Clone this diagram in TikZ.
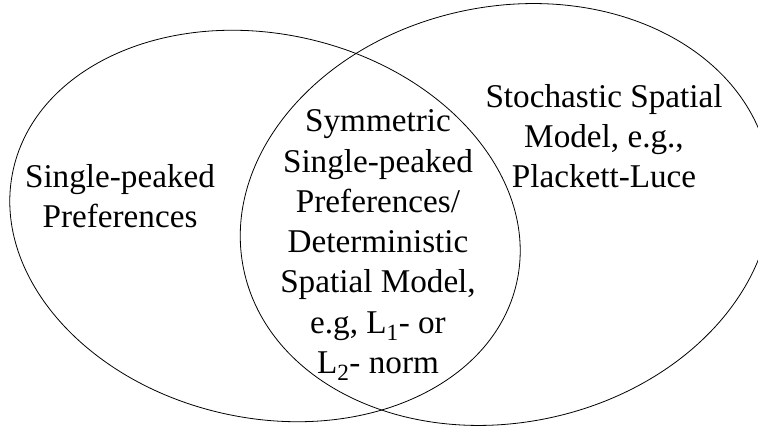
\documentclass[tikz,border=0pt]{standalone}
\usepackage{fontspec}
\setmainfont{Liberation Serif}
\usepackage{tikz}
\usetikzlibrary{positioning}

\begin{document}
\begin{tikzpicture}[x=1pt, y=1pt,
every node/.style = {align=center, inner sep=0pt, anchor=base,
  font=\fontsize{33.2}{40.3}\selectfont},
  set/.style = {draw, line width=0.8pt}
]
\useasboundingbox (0,0) rectangle (758,427);
\clip (0,0) rectangle (758,427);
% the two sets
\path[set, rotate around={-12.7:(265,201)}] (265,201) ellipse [x radius=258pt, y radius=192pt];
\path[set, rotate around={11.9:(506,212.5)}] (506,212.5) ellipse [x radius=268pt, y radius=208pt];
% labels (base = last line)
\node (single) at (120,199) {Single-peaked\\Preferences};
\node (symm) at (378,53.4) {Symmetric\\Single-peaked\\Preferences/\\Deterministic\\Spatial Model,\\e.g, L\textsubscript{1}- or\\L\textsubscript{2}- norm};
\node (stoch) at (604,239) {Stochastic Spatial\\Model, e.g.,\\Plackett-Luce};
\end{tikzpicture}
\end{document}
